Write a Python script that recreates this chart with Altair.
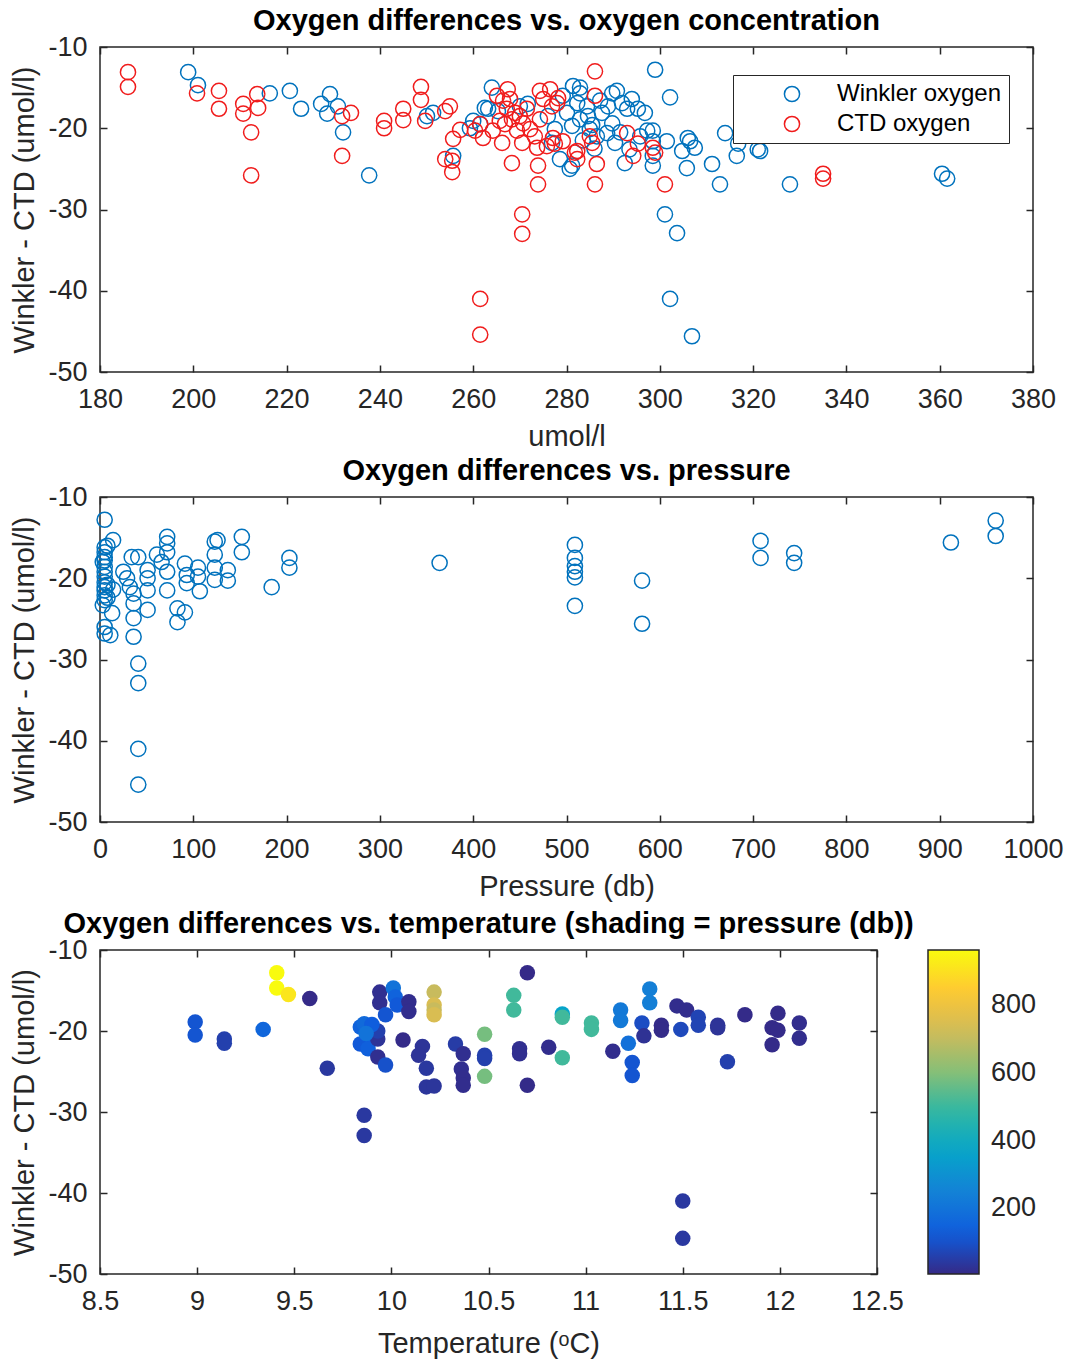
import altair as alt
import numpy as np
import pandas as pd

# ---- Panel 1: Winkler - CTD difference against oxygen concentration ----
winkler_conc = [198.9, 201.0, 216.4, 220.7, 223.1, 227.4, 229.3, 228.7, 232.1, 231.0,
                237.7, 250.1, 251.4, 255.7, 260.0, 262.5, 264.0, 263.2, 259.3, 261.5,
                265.3, 270.0, 271.7, 277.5, 276.9, 278.6, 281.2, 281.4, 282.9, 282.3,
                281.2, 282.9, 284.6, 285.0, 286.5, 288.7, 289.8, 290.4, 290.8, 291.9,
                293.0, 294.0, 295.3, 296.8, 287.6, 288.9, 295.8, 297.3, 292.5, 298.5,
                299.0, 289.8, 284.4, 280.1, 279.2, 282.9, 302.2, 298.5, 298.5, 301.5,
                306.0, 306.5, 307.5, 304.8, 305.8, 311.2, 312.9, 314.0, 316.5, 316.8,
                321.0, 321.5, 327.9, 360.5, 361.6, 301.1, 303.7, 302.2, 306.9, 280.7,
                298.5, 276.0, 287.2, 285.5, 291.5, 286.0, 293.5, 283.5]
winkler_diff = [-13.1, -14.7, -15.7, -15.4, -17.6, -17.0, -15.8, -18.2, -20.5, -17.3,
                -25.8, -18.5, -18.1, -23.4, -19.1, -17.5, -15.0, -17.6, -20.0, -19.5,
                -17.9, -17.3, -17.0, -20.1, -21.8, -23.8, -24.6, -14.8, -15.7, -16.9,
                -19.7, -18.9, -18.5, -20.1, -21.0, -20.6, -19.4, -21.8, -15.4, -16.9,
                -17.6, -16.4, -17.6, -18.1, -18.1, -17.3, -21.0, -20.3, -24.3, -23.4,
                -12.8, -15.7, -17.3, -18.1, -16.0, -15.0, -16.2, -20.3, -21.6, -21.6,
                -21.2, -21.6, -22.4, -22.8, -24.9, -24.4, -26.9, -20.6, -23.4, -21.9,
                -22.6, -22.8, -26.9, -25.6, -26.2, -30.6, -32.9, -41.0, -45.6, -25.0,
                -24.6, -18.5, -16.6, -19.6, -20.5, -22.5, -22.6, -21.5]

ctd_conc = [186.0, 186.0, 200.8, 205.5, 205.5, 210.7, 210.7, 213.7, 213.9, 212.4,
            212.4, 231.9, 233.8, 231.9, 240.9, 240.9, 245.0, 245.0, 248.8, 248.8,
            249.7, 254.0, 255.0, 257.2, 255.7, 254.0, 255.5, 255.5, 260.4, 261.5,
            261.5, 261.5, 270.5, 270.5, 268.3, 262.1, 264.2, 266.2, 267.4, 267.9,
            267.2, 268.3, 266.8, 269.4, 265.7, 270.0, 270.7, 272.2, 274.3, 273.2,
            273.7, 274.3, 275.0, 276.5, 276.9, 278.0, 278.2, 273.9, 273.9, 277.1,
            279.2, 277.5, 282.3, 282.3, 285.0, 285.5, 286.5, 286.1, 286.1, 286.1,
            293.0, 294.3, 298.5, 299.0, 270.5, 275.8, 281.8, 295.3, 301.1, 335.0,
            335.0, 265.1, 266.4, 269.0, 271.5]
ctd_diff = [-13.1, -14.9, -15.7, -15.4, -17.6, -17.0, -18.2, -15.8, -17.5, -20.5,
            -25.8, -18.5, -18.1, -23.4, -19.1, -20.0, -17.6, -19.0, -14.9, -16.5,
            -19.1, -17.9, -17.3, -20.2, -21.3, -23.8, -25.4, -24.0, -20.3, -19.5,
            -41.0, -45.4, -30.6, -33.0, -24.3, -21.2, -20.3, -21.8, -15.2, -16.4,
            -17.6, -18.9, -19.5, -20.3, -19.1, -18.5, -19.4, -20.1, -18.9, -21.0,
            -22.4, -15.4, -16.4, -15.2, -17.3, -16.9, -16.3, -24.6, -26.9, -21.2,
            -21.6, -21.9, -22.8, -23.8, -21.0, -21.8, -24.4, -26.9, -16.0, -13.0,
            -20.6, -23.4, -22.4, -23.0, -21.8, -22.2, -23.0, -21.9, -26.9, -25.6,
            -26.2, -16.0, -16.6, -18.1, -17.6]

# ---- Panel 2: difference against sampling pressure ----
pressure = [5, 14, 5, 5, 5, 5, 5, 5, 5, 5, 5, 5, 5, 5, 5, 5, 11, 3, 8, 8, 8, 3,
            14, 13, 25, 29, 32, 36, 36, 36, 36, 34, 41, 51, 51, 51, 51, 61, 72, 72,
            72, 72, 72, 66, 83, 91, 83, 91, 93, 93, 105, 105, 107, 123, 126, 123,
            123, 123, 137, 137, 152, 152, 184, 203, 203, 41, 41, 41, 41, 364, 509,
            509, 509, 509, 509, 509, 581, 581, 708, 708, 744, 744, 912, 960, 960]
pressure_diff = [-12.8, -15.3, -16.2, -16.8, -17.4, -17.8, -18.6, -19.2, -19.8, -20.5,
                 -21.1, -21.5, -22.1, -22.7, -26.0, -26.8, -27.0, -18.0, -20.8, -22.4,
                 -16.0, -23.3, -21.4, -24.3, -19.2, -20.0, -21.1, -21.9, -23.1, -24.9,
                 -27.2, -17.4, -17.4, -19.0, -20.0, -21.5, -23.9, -17.1, -14.9, -15.7,
                 -16.8, -19.2, -21.5, -18.0, -23.7, -24.2, -25.4, -18.2, -19.6, -20.6,
                 -18.7, -19.8, -21.6, -15.5, -15.3, -17.1, -18.7, -20.2, -19.0, -20.3,
                 -14.9, -16.8, -21.1, -17.5, -18.7, -30.5, -32.9, -41.0, -45.4, -18.1,
                 -15.9, -17.5, -18.5, -19.2, -19.9, -23.4, -20.3, -25.6, -15.4, -17.5,
                 -16.9, -18.1, -15.6, -12.9, -14.8]

# ---- Panel 3: difference against temperature, shaded by pressure ----
temperature = [8.99, 8.99, 9.14, 9.14, 9.34, 9.41, 9.41, 9.47, 9.58, 9.67,
               9.86, 9.86, 9.84, 9.86, 9.89, 9.88, 9.84, 9.88, 9.93, 9.93,
               9.90, 9.87, 9.93, 9.97, 9.94, 9.94, 10.01, 10.02, 10.03, 9.97,
               10.09, 10.09, 10.06, 10.16, 10.14, 10.18, 10.18, 10.22, 10.22, 10.22,
               10.22, 10.22, 10.33, 10.37, 10.36, 10.37, 10.37, 10.48, 10.48, 10.48,
               10.48, 10.63, 10.63, 10.66, 10.66, 10.70, 10.70, 10.81, 10.88, 10.88,
               10.88, 11.03, 11.03, 11.14, 11.18, 11.18, 11.22, 11.24, 11.24, 11.29,
               11.30, 11.33, 11.33, 11.39, 11.39, 11.47, 11.52, 11.49, 11.58, 11.58,
               11.68, 11.68, 11.73, 11.82, 11.99, 11.96, 11.99, 11.96, 12.10, 12.10,
               11.50, 11.50]
temp_diff = [-18.9, -20.5, -21.0, -21.5, -19.8, -12.8, -14.7, -15.5, -16.0, -24.6,
             -30.4, -32.9, -19.5, -19.1, -20.0, -20.7, -21.6, -22.2, -21.0, -20.0,
             -19.2, -20.3, -23.2, -24.2, -15.2, -16.5, -14.7, -15.8, -16.8, -18.0,
             -16.4, -17.6, -21.1, -21.9, -23.0, -24.6, -26.9, -26.8, -15.2, -16.8,
             -17.4, -18.0, -21.6, -22.8, -24.7, -25.8, -26.7, -20.4, -23.0, -23.4,
             -25.6, -15.6, -17.4, -22.2, -22.8, -12.8, -26.7, -22.0, -17.9, -18.3,
             -23.3, -19.0, -19.8, -22.5, -17.4, -18.7, -21.5, -23.9, -25.5, -19.0,
             -20.6, -14.8, -16.5, -19.3, -19.9, -16.9, -17.4, -19.8, -18.3, -19.3,
             -19.3, -19.6, -23.8, -18.0, -17.8, -19.6, -19.9, -21.7, -19.0, -20.9,
             -41.0, -45.6]
temp_pressure = [110, 110, 60, 60, 160, 960, 960, 912, 8, 40,
                 41, 41, 150, 170, 190, 150, 120, 140, 30, 60,
                 130, 200, 20, 100, 20, 20, 200, 150, 120, 110,
                 15, 15, 10, 30, 30, 40, 35, 35, 708, 744,
                 708, 744, 50, 20, 20, 15, 15, 581, 60, 60,
                 581, 509, 509, 20, 20, 8, 10, 15, 364, 509,
                 509, 509, 509, 15, 220, 220, 190, 110, 110, 90,
                 25, 240, 240, 10, 10, 15, 15, 80, 70, 70,
                 30, 30, 60, 10, 10, 10, 10, 10, 15, 15,
                 41, 41]

y_ticks = [-50, -40, -30, -20, -10]
conc_ticks = list(range(180, 381, 20))
pressure_ticks = list(range(0, 1001, 100))
temp_ticks = [8.5, 9, 9.5, 10, 10.5, 11, 11.5, 12, 12.5]

# MATLAB parula colour map stops
PARULA = ["#352a87", "#0f5cdd", "#1481d6", "#06a4ca", "#2eb7a4",
          "#87bf77", "#d1bb59", "#fec832", "#f9fb0e"]
P_MIN, P_MAX = 7, 961

FONT = "Liberation Sans"
INK = "#262626"
BLUE = "#0072bd"
RED = "#f01c1c"
TICK = 7
LABEL_SIZE = 27
TITLE_SIZE = 29


def axis(values, title, orient, labels=True, title_pad=None):
    opts = dict(values=values, orient=orient, domain=False, grid=False,
                tickSize=TICK, offset=-TICK, tickColor=INK, tickWidth=1.5,
                labelOverlap=False, labelFlush=False)
    if labels:
        horizontal = orient in ("bottom", "top")
        if title_pad is None:
            title_pad = 10 if horizontal else 8
        opts.update(title=title, labelExpr="datum.value + ''",
                    labelFont=FONT, labelFontSize=LABEL_SIZE, labelColor=INK,
                    labelPadding=14 if horizontal else 13,
                    titleFont=FONT, titleFontSize=TITLE_SIZE, titleFontWeight="normal",
                    titleColor=INK, titlePadding=title_pad)
    else:
        opts.update(labels=False, title=None)
    return alt.Axis(**opts)


def framed(main, data, xfield, yfield, xdom, ydom, xticks):
    """Add an invisible copy of the points carrying the mirrored top/right ticks."""
    mirror = alt.Chart(data).mark_point(opacity=0).encode(
        x=alt.X(f"{xfield}:Q", scale=alt.Scale(domain=xdom, nice=False, zero=False),
                axis=axis(xticks, None, "top", labels=False)),
        y=alt.Y(f"{yfield}:Q", scale=alt.Scale(domain=ydom, nice=False, zero=False),
                axis=axis(y_ticks, None, "right", labels=False)),
    )
    return alt.layer(main, mirror).resolve_axis(x="independent", y="independent")


def panel_title(text):
    return alt.TitleParams(text=text, font=FONT, fontSize=TITLE_SIZE, fontWeight="bold",
                           color="black", frame="group", anchor="middle", offset=-3)


Y_TITLE = "Winkler - CTD (umol/l)"

# Panel 1
conc_df = pd.concat([
    pd.DataFrame({"conc": winkler_conc, "diff": winkler_diff, "series": "Winkler oxygen"}),
    pd.DataFrame({"conc": ctd_conc, "diff": ctd_diff, "series": "CTD oxygen"}),
], ignore_index=True)

conc_points = alt.Chart(conc_df).mark_point(
    filled=False, size=230, strokeWidth=1.5, opacity=1
).encode(
    x=alt.X("conc:Q", scale=alt.Scale(domain=[180, 380], nice=False, zero=False),
            axis=axis(conc_ticks, "umol/l", "bottom")),
    y=alt.Y("diff:Q", scale=alt.Scale(domain=[-50, -10], nice=False, zero=False),
            axis=axis(y_ticks, Y_TITLE, "left")),
    color=alt.Color(
        "series:N",
        scale=alt.Scale(domain=["Winkler oxygen", "CTD oxygen"], range=[BLUE, RED]),
        legend=alt.Legend(
            title=None, orient="none", legendX=633, legendY=28,
            symbolType="circle", symbolSize=230, symbolStrokeWidth=1.5,
            labelFont=FONT, labelFontSize=24, labelColor="black", labelLimit=400,
            strokeColor=INK, fillColor="white", padding=7,
            symbolOffset=40, labelOffset=33, rowPadding=6,
        ),
    ),
    order=alt.Order("order:Q"),
).transform_calculate(order="datum.series == 'CTD oxygen' ? 1 : 0")

top = framed(conc_points, conc_df, "conc", "diff", [180, 380], [-50, -10], conc_ticks).properties(
    width=933, height=325, title=panel_title("Oxygen differences vs. oxygen concentration"))

# Panel 2
pres_df = pd.DataFrame({"pressure": pressure, "diff": pressure_diff})
pres_points = alt.Chart(pres_df).mark_point(
    filled=False, size=230, strokeWidth=1.5, color=BLUE, opacity=1
).encode(
    x=alt.X("pressure:Q", scale=alt.Scale(domain=[0, 1000], nice=False, zero=False),
            axis=axis(pressure_ticks, "Pressure (db)", "bottom")),
    y=alt.Y("diff:Q", scale=alt.Scale(domain=[-50, -10], nice=False, zero=False),
            axis=axis(y_ticks, Y_TITLE, "left")),
)
middle = framed(pres_points, pres_df, "pressure", "diff", [0, 1000], [-50, -10], pressure_ticks).properties(
    width=933, height=325, title=panel_title("Oxygen differences vs. pressure"))

# Panel 3
temp_df = pd.DataFrame({"temp": temperature, "diff": temp_diff, "pressure": temp_pressure})
stops = np.linspace(P_MIN, P_MAX, len(PARULA)).tolist()
temp_points = alt.Chart(temp_df).mark_circle(size=240, opacity=1).encode(
    x=alt.X("temp:Q", scale=alt.Scale(domain=[8.5, 12.5], nice=False, zero=False),
            axis=axis(temp_ticks, "Temperature (ᵒC)", "bottom", title_pad=15)),
    y=alt.Y("diff:Q", scale=alt.Scale(domain=[-50, -10], nice=False, zero=False),
            axis=axis(y_ticks, Y_TITLE, "left")),
    color=alt.Color(
        "pressure:Q",
        scale=alt.Scale(domain=stops, range=PARULA, interpolate="rgb", clamp=True),
        legend=alt.Legend(
            title=None, orient="right", offset=50, direction="vertical",
            gradientLength=324, gradientThickness=51,
            gradientStrokeColor=INK, gradientStrokeWidth=1.5,
            values=[200, 400, 600, 800], labelFont=FONT, labelFontSize=LABEL_SIZE,
            labelColor=INK, labelOffset=12,
        ),
    ),
)
bottom = framed(temp_points, temp_df, "temp", "diff", [8.5, 12.5], [-50, -10], temp_ticks).properties(
    width=777, height=324,
    title=panel_title("Oxygen differences vs. temperature (shading = pressure (db))"))

upper = alt.vconcat(top, middle, spacing=4)
chart = alt.vconcat(upper, bottom, spacing=7).properties(
    padding={"left": 10, "top": 6, "right": 0, "bottom": 0}
).configure(background="white").configure_view(stroke=INK, strokeWidth=1.5)

chart.save("out.html", embed_options={"renderer": "svg", "actions": False})
